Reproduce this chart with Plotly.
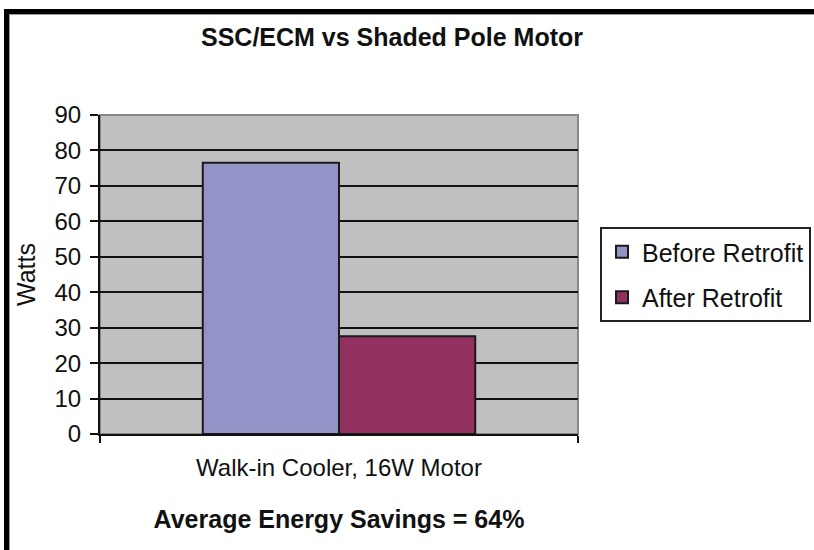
import plotly.graph_objects as go

categories = ["Walk-in Cooler, 16W Motor"]
before_retrofit = [76.5]
after_retrofit = [27.6]
series_names = ["Before Retrofit", "After Retrofit"]
y_ticks = [0, 10, 20, 30, 40, 50, 60, 70, 80, 90]

FONT = "Liberation Sans, Arial, sans-serif"
INK = "#111111"

fig = go.Figure()
fig.add_trace(go.Bar(
    x=categories, y=before_retrofit, name=series_names[0],
    marker=dict(color="#9393C8", line=dict(color="#1a1a1a", width=2)),
    legendgroup="a",
))
fig.add_trace(go.Bar(
    x=categories, y=after_retrofit, name=series_names[1],
    marker=dict(color="#923060", line=dict(color="#1a1a1a", width=2)),
    legendgroup="b",
))

L, R, T, B = 100, 578, 115, 434
W, H = R - L, B - T

def px(x):
    return (x - L) / W

def py(y):
    return (B - y) / H

fig.update_layout(
    width=814, height=550,
    margin=dict(l=L, r=814 - R, t=T, b=550 - B, autoexpand=False),
    paper_bgcolor="white",
    plot_bgcolor="#C0C0C0",
    barmode="group",
    bargap=0.43,
    bargroupgap=0,
    font=dict(family=FONT, color=INK),
    title=dict(
        text="<b>SSC/ECM vs Shaded Pole Motor</b>",
        x=392 / 814, xanchor="center",
        y=1 - 37 / 550, yanchor="middle",
        font=dict(size=25, family=FONT, color=INK),
    ),
    xaxis=dict(
        showline=True, linecolor=INK, linewidth=2,
        ticks="outside", tickson="boundaries", ticklen=7, tickcolor=INK, tickwidth=2,
        tickfont=dict(size=24, family=FONT, color=INK),
        ticklabelstandoff=11,
        title=dict(text="<b>Average Energy Savings = 64%</b>",
                   font=dict(size=25, family=FONT, color=INK), standoff=31),
        showgrid=False,
    ),
    yaxis=dict(
        range=[0, 90], tickvals=y_ticks,
        showline=True, linecolor=INK, linewidth=2,
        ticks="outside", ticklen=8, tickcolor=INK, tickwidth=2,
        tickfont=dict(size=24, family=FONT, color=INK),
        ticklabelstandoff=4,
        showgrid=True, gridcolor=INK, gridwidth=2,
        zeroline=False,
        title=dict(text="Watts", font=dict(size=25, family=FONT, color=INK), standoff=12),
    ),
    legend=dict(
        x=px(600), y=py(227), xanchor="left", yanchor="top",
        bgcolor="white", bordercolor="#222222", borderwidth=2,
        font=dict(size=25, family=FONT, color=INK),
        tracegroupgap=10,
        traceorder="grouped",
    ),
    showlegend=True,
    shapes=[
        dict(type="rect", xref="paper", yref="paper", x0=0, x1=1, y0=0, y1=1,
             line=dict(color="#888888", width=2), layer="below"),
        dict(type="rect", xref="paper", yref="paper",
             x0=px(4), x1=px(830), y0=py(14), y1=py(9),
             fillcolor="#000000", line=dict(width=0)),
        dict(type="line", xref="paper", yref="paper",
             x0=px(9), x1=px(830), y0=py(14.5), y1=py(14.5),
             line=dict(color="#999999", width=1)),
        dict(type="rect", xref="paper", yref="paper",
             x0=px(4), x1=px(9), y0=py(560), y1=py(9),
             fillcolor="#000000", line=dict(width=0)),
        dict(type="line", xref="paper", yref="paper",
             x0=px(9.5), x1=px(9.5), y0=py(560), y1=py(14),
             line=dict(color="#999999", width=1)),
    ],
)

fig.write_html("out.html", config={"displayModeBar": False},
               post_script="document.body.style.margin='0';")
